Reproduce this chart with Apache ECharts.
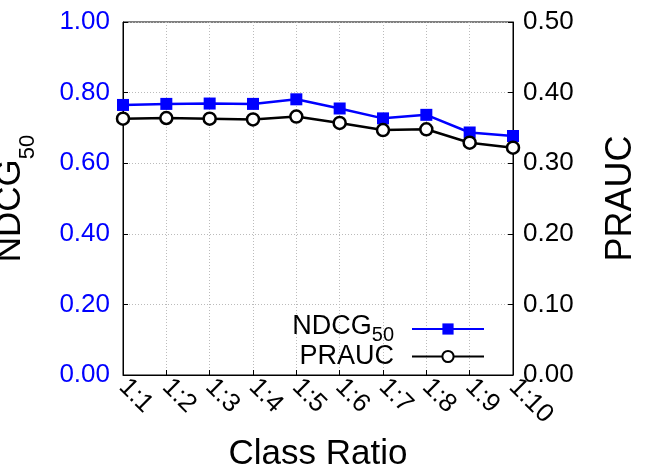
<!DOCTYPE html>
<html>
<head>
<meta charset="utf-8">
<script src="https://cdn.jsdelivr.net/npm/echarts@6/dist/echarts.min.js"></script>
<style>
  html, body { margin: 0; padding: 0; background: #fff; }
  #chart { width: 664px; height: 465px; }
</style>
</head>
<body>
<div id="chart"></div>
<script>
// class ratios on the x axis
const categories = ['1:1', '1:2', '1:3', '1:4', '1:5', '1:6', '1:7', '1:8', '1:9', '1:10'];
// NDCG@50 (left axis)
const ndcgValues = [0.765, 0.768, 0.769, 0.768, 0.781, 0.755, 0.727, 0.737, 0.687, 0.677];
// PRAUC (right axis)
const praucValues = [0.363, 0.364, 0.363, 0.362, 0.366, 0.357, 0.347, 0.348, 0.329, 0.322];

const FONT = 'Liberation Sans';

const chart = echarts.init(document.getElementById('chart'));

const option = {
  backgroundColor: '#fff',
  animation: false,
  textStyle: { fontFamily: FONT },
  grid: {
    left: 123, right: 151, top: 22, bottom: 90,
    show: true, borderColor: '#000', borderWidth: 1,
    outerBoundsMode: 'none'
  },
  legend: {
    orient: 'vertical',
    right: 179,
    bottom: 95,
    padding: 0,
    align: 'right',
    itemWidth: 72,
    itemHeight: 14,
    itemGap: -2,
    data: ['NDCG50', 'PRAUC'],
    formatter: (name) => name === 'NDCG50' ? '{a|NDCG}{b|50}' : '{a|PRAUC}',
    textStyle: {
      fontFamily: FONT,
      color: '#000',
      padding: [0, 13, 0, 0],
      rich: {
        a: { fontSize: 27, fontFamily: FONT, lineHeight: 27, verticalAlign: 'top' },
        b: { fontSize: 20, fontFamily: FONT, lineHeight: 32, verticalAlign: 'bottom' }
      }
    }
  },
  xAxis: {
    type: 'category',
    data: categories,
    boundaryGap: false,
    name: 'Class Ratio',
    nameLocation: 'middle',
    nameGap: 62,
    nameTextStyle: { fontSize: 35, color: '#000', fontFamily: FONT },
    axisLine: { lineStyle: { color: '#000', width: 1 } },
    axisTick: { inside: true, length: 5, interval: 0, lineStyle: { color: '#000' } },
    axisLabel: { rotate: -45, interval: 0, fontSize: 26, color: '#000', margin: 8, fontFamily: FONT },
    splitLine: { show: true, interval: 0, lineStyle: { color: '#bbb', type: [1, 2], width: 1 } }
  },
  yAxis: [
    {
      type: 'value',
      min: 0, max: 1, interval: 0.2,
      name: '{a|NDCG}{b|50}',
      nameLocation: 'middle',
      nameGap: 84,
      nameTextStyle: {
        color: '#000',
        rich: {
          a: { fontSize: 35, fontFamily: FONT, lineHeight: 36, verticalAlign: 'top' },
          b: { fontSize: 22, fontFamily: FONT, lineHeight: 46, verticalAlign: 'bottom' }
        }
      },
      axisLine: { show: true, lineStyle: { color: '#000', width: 1 } },
      axisTick: { show: true, inside: true, length: 5, lineStyle: { color: '#000' } },
      axisLabel: { fontSize: 26, color: '#0000ff', margin: 13, fontFamily: FONT, formatter: (v) => v.toFixed(2) },
      splitLine: { show: true, lineStyle: { color: '#bbb', type: [1, 2], width: 1 } }
    },
    {
      type: 'value',
      min: 0, max: 0.5, interval: 0.1,
      name: 'PRAUC',
      nameLocation: 'middle',
      nameGap: 90,
      nameTextStyle: { fontSize: 36, color: '#000', fontFamily: FONT },
      axisLine: { show: true, lineStyle: { color: '#000', width: 1 } },
      axisTick: { show: true, inside: true, length: 5, lineStyle: { color: '#000' } },
      axisLabel: { fontSize: 26, color: '#000', margin: 10, fontFamily: FONT, formatter: (v) => v.toFixed(2) },
      splitLine: { show: false }
    }
  ],
  series: [
    {
      name: 'NDCG50',
      type: 'line',
      yAxisIndex: 0,
      data: ndcgValues,
      symbol: 'rect',
      symbolSize: 12,
      showAllSymbol: true,
      color: '#0000ff',
      itemStyle: { color: '#0000ff' },
      lineStyle: { color: '#0000ff', width: 2.5 }
    },
    {
      name: 'PRAUC',
      type: 'line',
      yAxisIndex: 1,
      data: praucValues,
      symbol: 'circle',
      symbolSize: 12,
      showAllSymbol: true,
      color: '#000',
      itemStyle: { color: '#fff', borderColor: '#000', borderWidth: 2.5 },
      lineStyle: { color: '#000', width: 2.5 }
    }
  ]
};

chart.setOption(option);
</script>
</body>
</html>
